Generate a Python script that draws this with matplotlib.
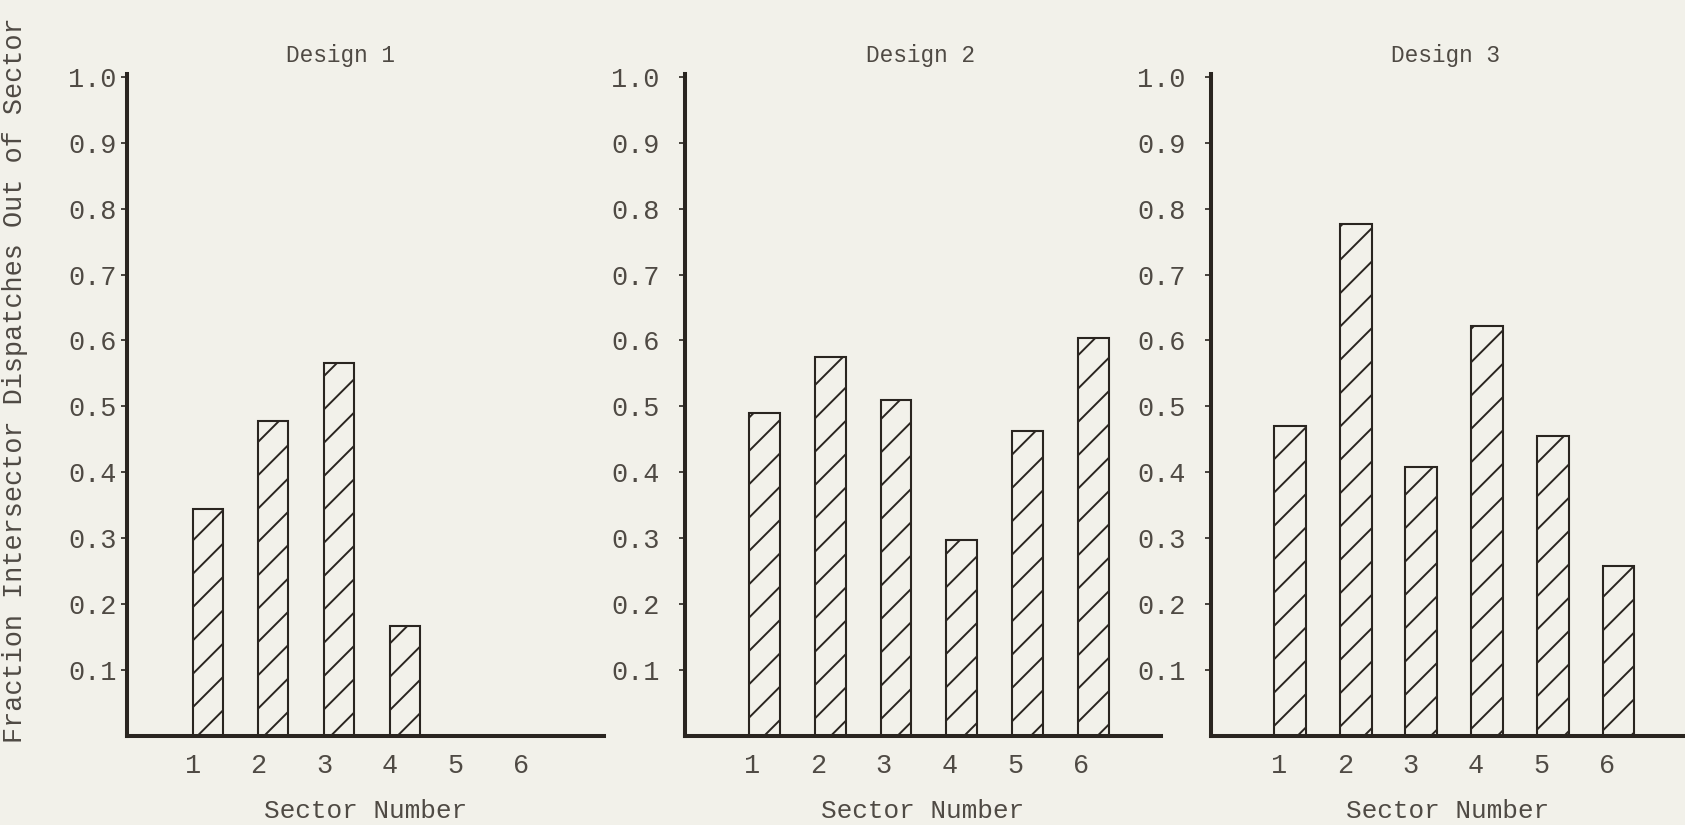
import numpy as np
import matplotlib.pyplot as plt

################################################################################
# Data
sectors   = [1, 2, 3, 4, 5, 6]
design1   = [0.345, 0.478, 0.566, 0.167]          # sectors 1-4 only
design2   = [0.490, 0.575, 0.509, 0.298, 0.462, 0.603]
design3   = [0.470, 0.777, 0.408, 0.622, 0.455, 0.258]
titles    = ['Design 1', 'Design 2', 'Design 3']
yticks    = [0.1, 0.2, 0.3, 0.4, 0.5, 0.6, 0.7, 0.8, 0.9, 1.0]
ylab      = 'Fraction Intersector Dispatches Out of Sector'
xlab      = 'Sector Number'

paper = '#f2f1ea'
ink   = '#2a2520'
txt   = '#4f4a44'

plt.rcParams['font.family'] = ['Liberation Mono', 'DejaVu Sans Mono']
plt.rcParams['hatch.linewidth'] = 0.7
plt.rcParams['hatch.color'] = ink

# dpi 200 so the '//' hatch comes out as sparse as the original
fig = plt.figure(figsize=(8.425, 4.125), dpi=200, facecolor=paper)

# axes boxes [left, bottom, width, height] in figure fraction
boxes   = [[0.0754, 0.1079, 0.2831, 0.803],
           [0.4065, 0.1079, 0.2825, 0.803],
           [0.7187, 0.1079, 0.2813, 0.803]]
xlims   = [(0.0, 7.27), (-0.02, 7.22), (-0.035, 7.18)]
offsets = [0.0, -0.045, -0.075]
widths  = [0.46, 0.47, 0.485]
ypads   = [1.5, 7.0, 7.0]

data = [design1, design2, design3]
for i in range(3):
    ax = fig.add_axes(boxes[i])
    ax.set_facecolor(paper)
    vals = data[i]
    xs = np.array(sectors[:len(vals)]) + offsets[i]
    ax.bar(xs, vals, width=widths[i], align='edge', color=paper,
           edgecolor=ink, linewidth=0.75, hatch='//')
    ax.set_xlim(*xlims[i])
    ax.set_ylim(0, 1.005)
    ax.set_xticks(sectors)
    ax.set_xticklabels([str(s) for s in sectors])
    ax.set_yticks(yticks)
    ax.set_yticklabels(['%.1f' % v for v in yticks])
    for s in ['top', 'right']:
        ax.spines[s].set_visible(False)
    for s in ['left', 'bottom']:
        ax.spines[s].set_linewidth(1.45)
        ax.spines[s].set_color(ink)
    ax.tick_params(axis='x', length=0, pad=6, labelsize=9.7, labelcolor=txt)
    ax.tick_params(axis='y', length=2.2, width=0.6, color=ink, pad=ypads[i],
                   labelsize=9.7, labelcolor=txt)
    ax.set_xlabel(xlab, fontsize=9.4, color=txt, labelpad=7.5)

# titles (typed in a smaller pitch in the original)
title_pos = [0.202, 0.546, 0.858]
for i in range(3):
    fig.text(title_pos[i], 0.933, titles[i], ha='center', va='center',
             fontsize=8.2, color=txt)

fig.text(0.009, 0.539, ylab, rotation=90, ha='center', va='center',
         fontsize=9.7, color=txt)

fig.savefig('out.png', dpi=200, facecolor=paper)
